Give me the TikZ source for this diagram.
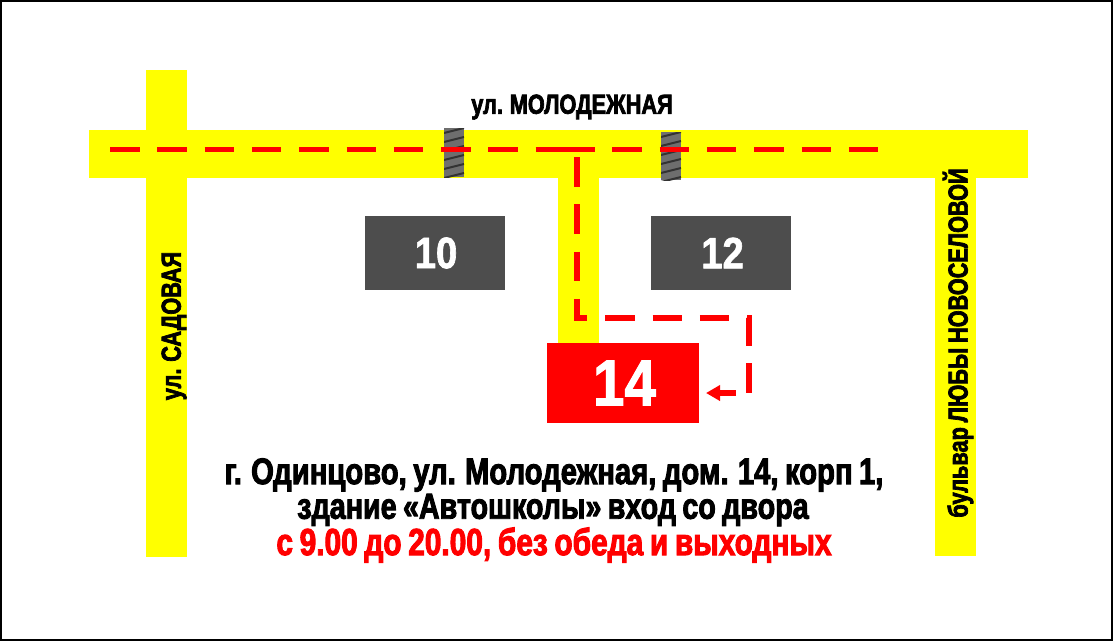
\documentclass[tikz,border=0pt]{standalone}
\usepackage{fontspec}
\setmainfont{Liberation Sans}[FakeStretch=0.79,FakeBold=2.5,WordSpace=0.8]
\newfontfamily\digits{Liberation Sans}[FakeStretch=0.87,FakeBold=1.5]
\usepackage{tikz}
\usetikzlibrary{arrows.meta,positioning}
\definecolor{road}{HTML}{FFFF00}
\definecolor{mark}{HTML}{FF0000}
\definecolor{block}{HTML}{4D4D4D}
\definecolor{zebra}{HTML}{6E6E6E}

\begin{document}
\begin{tikzpicture}[x=1pt,y=-1pt,
building/.style={fill=block,text=white,inner sep=0pt,minimum width=140pt,minimum height=74pt,font=\digits\bfseries\fontsize{44}{44}\selectfont},
street/.style={inner sep=0pt,font=\bfseries\fontsize{27.5}{27.5}\selectfont},
info/.style={inner sep=0pt,font=\bfseries\fontsize{37}{37}\selectfont},
route/.style={draw=mark,line width=5.5pt,dash pattern=on 29.5pt off 17.8pt},
arr/.style={-{Triangle[length=14pt,width=15pt]},draw=mark,line width=6pt}]
\useasboundingbox (0,0) rectangle (1113,641);
\draw[line width=2pt] (1,1) rectangle (1112,640);
\fill[road] (146,70) rectangle (187,557);
\fill[road] (935,178) rectangle (976,556);
\fill[road] (89,130) rectangle (1028,178);
\fill[road] (558,178) rectangle (599,343);
\foreach \zx/\zy/\zh in {444/128/49,661/132/48}{
\begin{scope}
\clip (\zx,\zy) rectangle ++(20,\zh);
\fill[zebra] (\zx,\zy) rectangle ++(20,\zh);
\foreach \k in {0,...,6}
\draw[black!80,line width=2pt] (\zx,\zy+5+\k*9) -- ++(20,-5);
\end{scope}}
\node[building] (b10) at (435,253) {\kern2pt 10};
\node[building] (b12) at (721,253) {\kern3pt 12};
\node[building,fill=mark,minimum width=152pt,minimum height=80pt,font=\digits\bfseries\fontsize{65}{65}\selectfont] (b14) at (623,383) {\kern3pt 14};
\coordinate (w1) at (110,149.5);
\coordinate (w2) at (566,149.5);
\coordinate (w3) at (565,149.5);
\coordinate (w4) at (878,149.5);
\coordinate (s1) at (577,157);
\coordinate (s2) at (577,318);
\coordinate (s3) at (749,318);
\coordinate (s4) at (749,393);
\coordinate (a1) at (736,393);
\coordinate (a2) at (706,393);
\draw[route] (w1) -- (w2);
\draw[route] (w3) -- (w4);
\draw[route] (s1) -- (s2) -- (s3) -- (s4);
\draw[arr] (a1) -- (a2);
\node[street] (molod) at (572,107) {ул. МОЛОДЕЖНАЯ};
\node[street,rotate=90] (sad) at (174,326) {ул. САДОВАЯ};
\node[street,rotate=90] (bul) at (958,343) {бульвар ЛЮБЫ НОВОСЕЛОВОЙ};
\node[info] (addr) at (554,475) {г. Одинцово, ул. Молодежная, дом. 14, корп 1,};
\node[info,font=\bfseries\fontsize{36.3}{36.3}\selectfont] (hall) at (553,510) {здание «Автошколы» вход со двора};
\node[info,text=mark,font=\bfseries\fontsize{37.8}{37.8}\selectfont] (time) at (554,545) {с 9.00 до 20.00, без обеда и выходных};
\end{tikzpicture}
\end{document}
